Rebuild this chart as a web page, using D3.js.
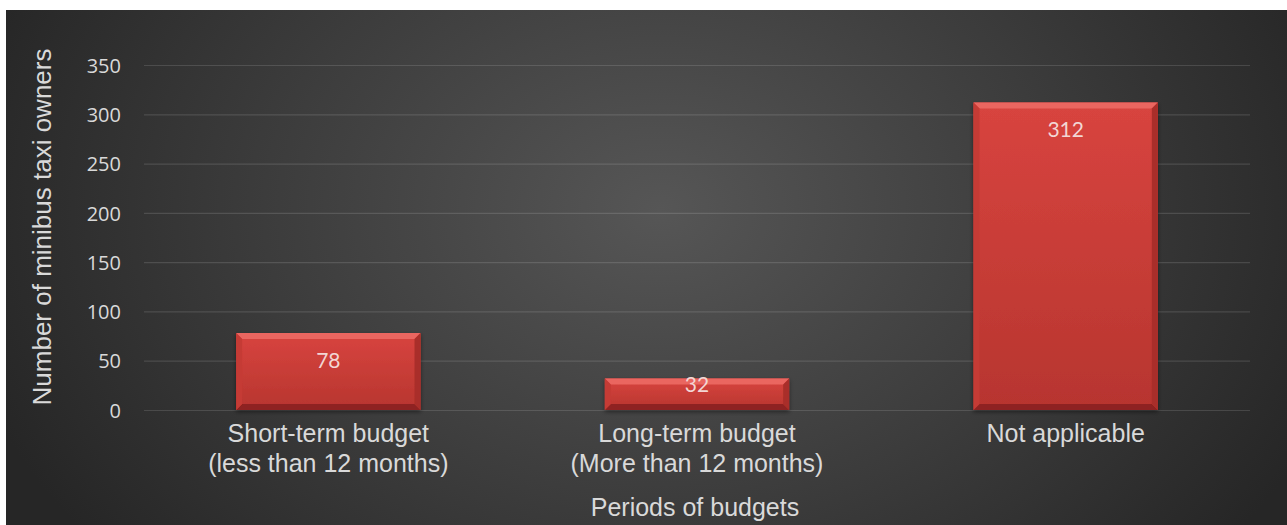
<!DOCTYPE html>
<html>
<head>
<meta charset="utf-8">
<script src="https://cdn.jsdelivr.net/npm/d3@7/dist/d3.min.js"></script>
<style>
  html, body { margin: 0; padding: 0; background: #ffffff; }
  svg { display: block; }
</style>
</head>
<body>
<svg id="chart" width="1287" height="525"></svg>
<script>
// Budget periods reported by minibus taxi owners
const categories = [
  ["Short-term budget", "(less than 12 months)"],
  ["Long-term budget", "(More than 12 months)"],
  ["Not applicable"]
];
const owners = [78, 32, 312];
const yTicks = [0, 50, 100, 150, 200, 250, 300, 350];

const W = 1287, H = 525;
const svg = d3.select("#chart");
const defs = svg.append("defs");

// Dark panel with a soft central glow
const bg = defs.append("radialGradient").attr("id", "bg")
  .attr("gradientUnits", "userSpaceOnUse")
  .attr("cx", 660).attr("cy", 210).attr("r", 720)
  .attr("gradientTransform", "translate(660,210) scale(1,0.75) translate(-660,-210)");
bg.append("stop").attr("offset", "0%").attr("stop-color", "#565656");
bg.append("stop").attr("offset", "55%").attr("stop-color", "#3c3c3c");
bg.append("stop").attr("offset", "100%").attr("stop-color", "#262626");

svg.append("rect").attr("x", 6).attr("y", 10)
  .attr("width", W - 6).attr("height", H - 10).attr("fill", "url(#bg)");

const barGrad = defs.append("linearGradient").attr("id", "barFill")
  .attr("x1", 0).attr("y1", 0).attr("x2", 0).attr("y2", 1);
barGrad.append("stop").attr("offset", "0%").attr("stop-color", "#d8443f");
barGrad.append("stop").attr("offset", "100%").attr("stop-color", "#b7352f");

const shadow = defs.append("filter").attr("id", "shadow")
  .attr("x", "-10%").attr("y", "-10%").attr("width", "120%").attr("height", "130%");
shadow.append("feDropShadow").attr("dx", 0).attr("dy", 2).attr("stdDeviation", 2)
  .attr("flood-color", "#000").attr("flood-opacity", 0.45);

const plot = { left: 144, right: 1250, top: 65, bottom: 410 };

const x = d3.scaleBand()
  .domain(d3.range(categories.length))
  .range([plot.left, plot.right])
  .paddingInner(0.5).paddingOuter(0.25);

const y = d3.scaleLinear().domain([0, 350]).range([plot.bottom, plot.top]);

// Gridlines and value axis
const yAxis = d3.axisLeft(y).tickValues(yTicks)
  .tickSize(-(plot.right - plot.left)).tickPadding(23);
const gy = svg.append("g").attr("transform", `translate(${plot.left},0)`).call(yAxis);
gy.select(".domain").remove();
gy.selectAll(".tick line").attr("stroke", "#ffffff").attr("stroke-opacity", 0.13).attr("stroke-width", 1.2);
gy.selectAll(".tick text")
  .attr("fill", "#d9d9d9")
  .attr("dy", "0.36em")
  .style("font-family", "'Open Sans', sans-serif")
  .style("font-size", "20px");

// Bevelled bars
const bevel = 6;
const bars = svg.append("g").selectAll("g.bar")
  .data(owners).join("g").attr("class", "bar")
  .attr("filter", "url(#shadow)");

bars.each(function (d, i) {
  const g = d3.select(this);
  const x0 = x(i), x1 = x(i) + x.bandwidth();
  const y0 = y(d), y1 = y(0);
  const b = Math.min(bevel, (y1 - y0) / 3);
  g.append("rect").attr("x", x0).attr("y", y0)
    .attr("width", x1 - x0).attr("height", y1 - y0).attr("fill", "url(#barFill)");
  const poly = (pts, fill) => g.append("polygon")
    .attr("points", pts.map(p => p.join(",")).join(" ")).attr("fill", fill);
  poly([[x0, y0], [x1, y0], [x1 - b, y0 + b], [x0 + b, y0 + b]], "#ea6660");
  poly([[x0, y1], [x1, y1], [x1 - b, y1 - b], [x0 + b, y1 - b]], "#8e2420");
  poly([[x0, y0], [x0 + b, y0 + b], [x0 + b, y1 - b], [x0, y1]], "#c53a35");
  poly([[x1, y0], [x1 - b, y0 + b], [x1 - b, y1 - b], [x1, y1]], "#a92e29");
});

// Value labels just inside the top of each bar
svg.append("g").selectAll("text")
  .data(owners).join("text")
  .attr("x", (d, i) => x(i) + x.bandwidth() / 2)
  .attr("y", d => Math.min(y(d) + 35, y(0) - 18))
  .attr("text-anchor", "middle")
  .attr("fill", "#f2d6d4")
  .style("font-family", "Lato, 'Open Sans', sans-serif")
  .style("font-size", "21px")
  .text(d => d);

// Category labels
const cat = svg.append("g").selectAll("text")
  .data(categories).join("text")
  .attr("x", (d, i) => x(i) + x.bandwidth() / 2)
  .attr("y", 442)
  .attr("text-anchor", "middle")
  .attr("fill", "#d9d9d9")
  .style("font-family", "'Liberation Sans', Arial, sans-serif")
  .style("font-size", "25px");
cat.selectAll("tspan").data(d => d).join("tspan")
  .attr("x", function () { return d3.select(this.parentNode).attr("x"); })
  .attr("dy", (d, j) => j === 0 ? 0 : 30)
  .text(d => d);

// Axis titles
svg.append("text")
  .attr("x", 695).attr("y", 516)
  .attr("text-anchor", "middle")
  .attr("fill", "#d9d9d9")
  .style("font-family", "'Liberation Sans', Arial, sans-serif")
  .style("font-size", "25px")
  .text("Periods of budgets");

svg.append("text")
  .attr("transform", "translate(51,227) rotate(-90)")
  .attr("text-anchor", "middle")
  .attr("fill", "#d9d9d9")
  .style("font-family", "'Liberation Sans', Arial, sans-serif")
  .style("font-size", "26px")
  .text("Number of minibus taxi owners");
</script>
</body>
</html>
